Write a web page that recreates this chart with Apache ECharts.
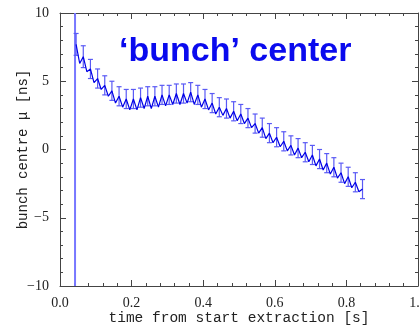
<!DOCTYPE html>
<html><head><meta charset="utf-8">
<script src="https://cdn.jsdelivr.net/npm/echarts@6/dist/echarts.min.js"></script>
<style>html,body{margin:0;padding:0;background:#fff}#c{width:420px;height:327px}</style>
</head><body><div id="c"></div>
<script>
const times = [0.045,0.055,0.065,0.075,0.085,0.095,0.105,0.115,0.125,0.135,0.145,0.155,0.165,0.175,0.185,0.195,0.205,0.215,0.225,0.235,0.245,0.255,0.265,0.275,0.285,0.295,0.305,0.315,0.325,0.335,0.345,0.355,0.365,0.375,0.385,0.395,0.405,0.415,0.425,0.435,0.445,0.455,0.465,0.475,0.485,0.495,0.505,0.515,0.525,0.535,0.545,0.555,0.565,0.575,0.585,0.595,0.605,0.615,0.625,0.635,0.645,0.655,0.665,0.675,0.685,0.695,0.705,0.715,0.725,0.735,0.745,0.755,0.765,0.775,0.785,0.795,0.805,0.815,0.825,0.835,0.845];
const centre = [7.7,6.3,6.8,5.7,5.9,4.9,5.2,4.4,4.7,3.9,4.3,3.4,3.9,3.1,3.7,2.9,3.7,2.9,3.8,3.0,3.9,3.0,3.9,3.1,4.0,3.2,4.0,3.3,4.1,3.3,4.1,3.4,4.2,3.3,4.0,3.1,3.7,2.9,3.4,2.6,3.1,2.5,3.0,2.3,2.8,2.1,2.6,1.9,2.3,1.6,1.9,1.2,1.6,0.8,1.2,0.5,0.9,0.2,0.6,-0.1,0.3,-0.4,0.1,-0.6,-0.2,-0.9,-0.4,-1.2,-0.7,-1.5,-1.0,-1.8,-1.3,-2.1,-1.7,-2.5,-2.0,-2.8,-2.4,-3.1,-2.9];
// error half-widths [ns] (0 = no bar drawn)
const errs = [0.8,0,0.8,0,0.7,0,0.7,0,0.7,0,0.7,0,0.7,0,0.7,0,0.7,0,0.7,0,0.7,0,0.7,0,0.7,0,0.7,0,0.7,0,0.7,0,0.7,0,0.7,0,0.7,0,0.7,0,0.7,0,0.7,0,0.7,0,0.7,0,0.7,0,0.7,0,0.7,0,0.7,0,0.7,0,0.7,0,0.7,0,0.7,0,0.7,0,0.7,0,0.7,0,0.7,0,0.7,0,0.7,0,0.7,0,0.7,0,0.7];
const startTime = 0.042;
const xTicks = [0, 0.2, 0.4, 0.6, 0.8, 1.0];
const yTicks = [-10, -5, 0, 5, 10];
const titleText = "\u2018bunch\u2019 center";
const xName = "time from start extraction [s]";
const yName = "bunch centre \u03bc [ns]";

const lineData = times.map((t,i)=>[t, centre[i]]);
const errData = [];
times.forEach((t,i)=>{ if (errs[i] > 0) errData.push([t, centre[i]-errs[i], centre[i]+errs[i]]); });

const chart = echarts.init(document.getElementById('c'), null, {renderer:'canvas'});
const axisCol = '#444';
const lblFont = {color:'#222', fontFamily:'Liberation Serif', fontSize:14};
function xAx(pos, show){
  return {type:'value', position:pos, min:xTicks[0], max:xTicks[xTicks.length-1], interval:0.2,
    axisLine:{onZero:false, lineStyle:{color:axisCol,width:1}},
    axisTick:{inside:true, length:6, lineStyle:{color:axisCol}},
    minorTick:{show:true, splitNumber:5, length:3, lineStyle:{color:axisCol}},
    splitLine:{show:false},
    axisLabel:Object.assign({show:show, margin:10, formatter:v=>v.toFixed(1)}, lblFont),
    name: show?xName:'', nameLocation:'middle', nameGap:25, nameMoveOverlap:false,
    nameTextStyle:{fontFamily:'Liberation Mono', fontSize:14.5, color:'#222'}};
}
function yAx(pos, show){
  return {type:'value', position:pos, min:yTicks[0], max:yTicks[yTicks.length-1], interval:5,
    axisLine:{onZero:false, lineStyle:{color:axisCol,width:1}},
    axisTick:{inside:true, length:6, lineStyle:{color:axisCol}},
    minorTick:{show:true, splitNumber:5, length:3, lineStyle:{color:axisCol}},
    splitLine:{show:false},
    axisLabel:Object.assign({show:show, margin:11, formatter:v=>String(v).replace('-','\u2212')}, lblFont),
    name: show?yName:'', nameLocation:'middle', nameGap:30, nameMoveOverlap:false,
    nameTextStyle:{fontFamily:'Liberation Mono', fontSize:14, color:'#222'}};
}
chart.setOption({
  animation:false,
  backgroundColor:'#fff',
  grid:{left:60, right:2, top:13, bottom:41, containLabel:false, outerBoundsMode:'none'},
  title:{text:titleText, left:114, top:30, textStyle:{color:'#0a0aee', fontFamily:'Liberation Sans', fontWeight:'bold', fontSize:34}},
  xAxis:[xAx('bottom',true), xAx('top',false)],
  yAxis:[yAx('left',true), yAx('right',false)],
  series:[
    {type:'line', data:[[startTime, yTicks[0]],[startTime, yTicks[yTicks.length-1]]], showSymbol:false,
     lineStyle:{color:'#7878ff', width:2}, z:1},
    {type:'custom', data:errData, z:2,
     renderItem:(params, api)=>{
       const x = api.value(0);
       const lo = api.coord([x, api.value(1)]);
       const hi = api.coord([x, api.value(2)]);
       const w = 2.5;
       const st = {stroke:'#5a5af5', lineWidth:1.2};
       return {type:'group', children:[
         {type:'line', shape:{x1:lo[0],y1:lo[1],x2:hi[0],y2:hi[1]}, style:st},
         {type:'line', shape:{x1:lo[0]-w,y1:lo[1],x2:lo[0]+w,y2:lo[1]}, style:st},
         {type:'line', shape:{x1:hi[0]-w,y1:hi[1],x2:hi[0]+w,y2:hi[1]}, style:st}
       ]};
     }},
    {type:'line', data:lineData, showSymbol:false, lineStyle:{color:'#0000e6', width:1.2}, z:3}
  ]
});
</script></body></html>
